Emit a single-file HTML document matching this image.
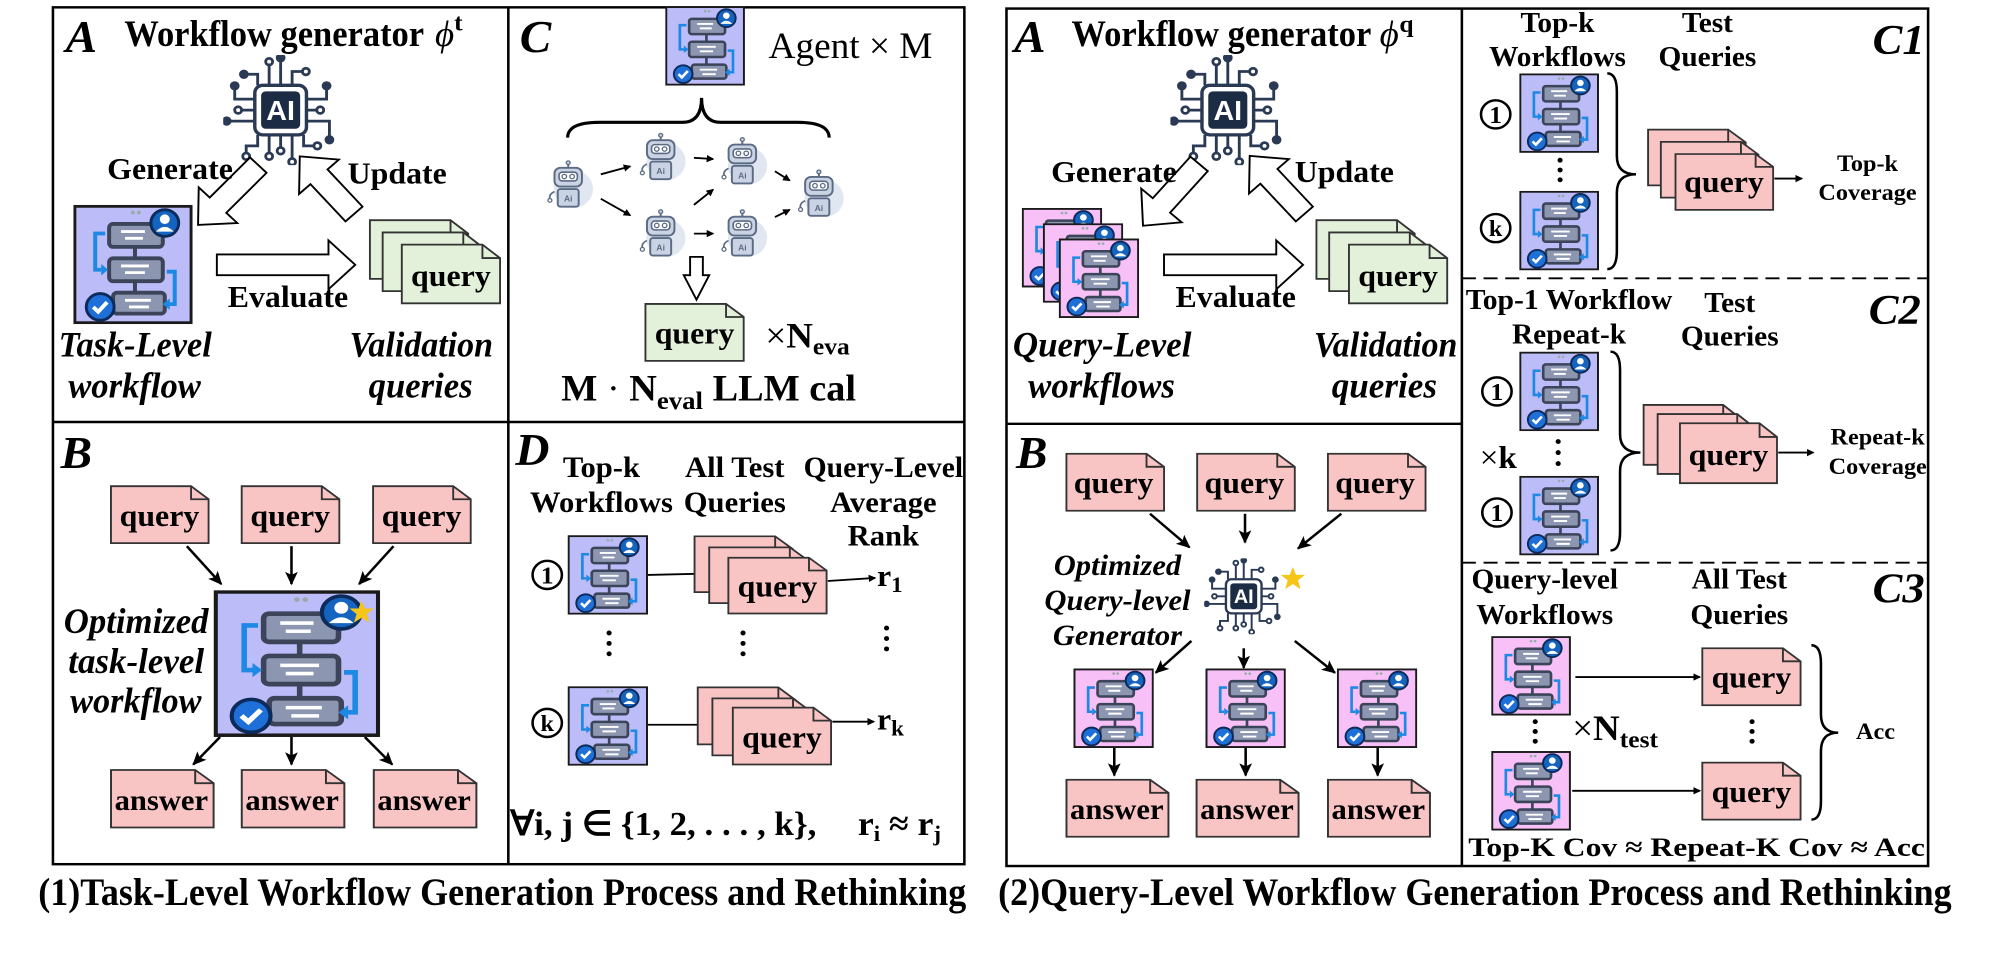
<!DOCTYPE html>
<html><head><meta charset="utf-8"><style>
html,body{margin:0;padding:0;background:#fff;}
svg{display:block;}
text{font-family:"Liberation Serif",serif;font-weight:bold;fill:#000;}
.bi{font-style:italic;}
.n{font-weight:normal;}
</style></head><body>
<svg width="1995" height="959" viewBox="0 0 1995 959" xmlns="http://www.w3.org/2000/svg">
<defs>
<marker id="ah" markerWidth="12" markerHeight="12" refX="10" refY="6" orient="auto" markerUnits="userSpaceOnUse"><path d="M0,0 L12,6 L0,12 Z" fill="#000"/></marker>
<marker id="ah2" markerWidth="22" markerHeight="20" refX="20" refY="10" orient="auto" markerUnits="userSpaceOnUse"><path d="M0,0 L22,10 L0,20 L5,10 Z" fill="#000"/></marker>
<symbol id="wf" viewBox="0 0 120 125" preserveAspectRatio="none">
<rect x="1.5" y="1.5" width="117" height="122" fill="currentColor" stroke="#1a1a1a" stroke-width="3"/>
<circle cx="60" cy="8" r="2" fill="#9aa"/><circle cx="66" cy="8" r="2" fill="#9aa"/>
<line x1="62" y1="44" x2="62" y2="56" stroke="#3b4459" stroke-width="4"/>
<line x1="62" y1="80" x2="62" y2="92" stroke="#3b4459" stroke-width="4"/>
<rect x="36" y="20" width="54" height="24" rx="4" fill="#8d96b0" stroke="#3b4459" stroke-width="4"/>
<line x1="48" y1="28" x2="72" y2="28" stroke="#fff" stroke-width="3"/><line x1="52" y1="35" x2="70" y2="35" stroke="#fff" stroke-width="3"/>
<rect x="36" y="56" width="54" height="24" rx="4" fill="#8d96b0" stroke="#3b4459" stroke-width="4"/>
<line x1="48" y1="64" x2="76" y2="64" stroke="#fff" stroke-width="3"/><line x1="52" y1="71" x2="72" y2="71" stroke="#fff" stroke-width="3"/>
<rect x="40" y="92" width="52" height="22" rx="4" fill="#8d96b0" stroke="#3b4459" stroke-width="4"/>
<line x1="52" y1="100" x2="78" y2="100" stroke="#fff" stroke-width="3"/><line x1="56" y1="107" x2="76" y2="107" stroke="#fff" stroke-width="3"/>
<path d="M32,30 H22 V68 H28" fill="none" stroke="#1e88e5" stroke-width="4"/><path d="M28,62 L35,68 L28,74 Z" fill="#1e88e5"/>
<path d="M94,70 H102 V104 H96" fill="none" stroke="#1e88e5" stroke-width="4"/><path d="M97,98 L90,104 L97,110 Z" fill="#1e88e5"/>
<circle cx="92" cy="19" r="14" fill="#1565c0" stroke="#0d2b5a" stroke-width="3"/>
<circle cx="92" cy="15" r="5" fill="#fff"/><path d="M83,28 Q92,18 101,28 Z" fill="#fff"/>
<circle cx="27" cy="107" r="14" fill="#1e6fd8" stroke="#0d2b5a" stroke-width="3"/>
<polyline points="20,107 25,112 34,102" fill="none" stroke="#fff" stroke-width="4"/>
</symbol>
<symbol id="chip" viewBox="-100 -100 200 200">
<g stroke="#2a3a55" stroke-width="5" fill="#fff">
<path d="M-20,-45 V-85 M0,-45 V-95 M20,-45 V-70 H40 M-40,-45 V-65 H-60 M45,-20 H80 V-40 M45,0 H65 M45,20 H85 V50 M-45,-20 H-80 V-40 M-45,0 H-70 M-45,20 H-90 M-20,45 V80 M0,45 V70 M20,45 V90 M40,45 V65 H60 M-40,45 V65 H-60 V80" fill="none"/>
<circle cx="-20" cy="-88" r="6"/><circle cx="0" cy="-95" r="6" fill="#2a3a55"/><circle cx="44" cy="-70" r="6"/><circle cx="-64" cy="-65" r="6" fill="#2a3a55"/><circle cx="80" cy="-44" r="6" fill="#2a3a55"/><circle cx="69" cy="0" r="6"/><circle cx="85" cy="54" r="6" fill="#2a3a55"/><circle cx="-80" cy="-44" r="6" fill="#2a3a55"/><circle cx="-74" cy="0" r="6"/><circle cx="-94" cy="20" r="6" fill="#2a3a55"/><circle cx="-20" cy="84" r="6"/><circle cx="0" cy="74" r="6"/><circle cx="20" cy="94" r="6"/><circle cx="64" cy="65" r="6"/><circle cx="-60" cy="84" r="6"/>
</g>
<rect x="-45" y="-45" width="90" height="90" rx="14" fill="#fff" stroke="#2a3a55" stroke-width="6"/>
<rect x="-34" y="-34" width="68" height="68" rx="8" fill="#1d2c45"/>
<text x="0" y="18" text-anchor="middle" style="font-family:'Liberation Sans',sans-serif;font-size:50px;font-weight:bold;fill:#fff">AI</text>
</symbol>
<symbol id="robot" viewBox="6 0 72 78">
<circle cx="46" cy="46" r="30" fill="#e1e7f0"/>
<line x1="38" y1="4" x2="38" y2="12" stroke="#5c6b85" stroke-width="3"/><circle cx="38" cy="4" r="3" fill="#c9d3e3" stroke="#5c6b85" stroke-width="2"/>
<rect x="17" y="12" width="42" height="30" rx="9" fill="#c9d3e3" stroke="#5c6b85" stroke-width="3"/>
<rect x="24" y="19" width="28" height="14" rx="5" fill="#fff" stroke="#5c6b85" stroke-width="2.5"/>
<circle cx="32" cy="26" r="3.5" fill="none" stroke="#5c6b85" stroke-width="2"/><circle cx="44" cy="26" r="3.5" fill="none" stroke="#5c6b85" stroke-width="2"/>
<rect x="22" y="46" width="32" height="28" rx="4" fill="#c9d3e3" stroke="#5c6b85" stroke-width="3"/>
<text x="38" y="66" text-anchor="middle" style="font-family:'Liberation Sans',sans-serif;font-size:13px;fill:#5c6b85">Ai</text>
<path d="M17,50 Q8,54 10,62" fill="none" stroke="#5c6b85" stroke-width="2.5"/><circle cx="10" cy="64" r="3" fill="#fff" stroke="#5c6b85" stroke-width="2"/>
</symbol>
<symbol id="docP" viewBox="0 0 160 100" preserveAspectRatio="none">
<path d="M2,2 H130 L158,24 V98 H2 Z" fill="#f8c4c4" stroke="#333" stroke-width="3"/><path d="M130,2 V24 H158" fill="none" stroke="#333" stroke-width="3"/>
</symbol>
<symbol id="docG" viewBox="0 0 160 100" preserveAspectRatio="none">
<path d="M2,2 H130 L158,24 V98 H2 Z" fill="#e3f0da" stroke="#333" stroke-width="3"/><path d="M130,2 V24 H158" fill="none" stroke="#333" stroke-width="3"/>
</symbol>
<symbol id="star" viewBox="0 0 40 40"><polygon points="20,2 25,15 39,15 28,24 32,38 20,30 8,38 12,24 1,15 15,15" fill="#f5c518"/></symbol>
</defs>

<!-- ================= LEFT ================= -->
<g transform="scale(0.6378,0.6116)">
<rect x="83" y="12" width="1429" height="1401" fill="none" stroke="#000" stroke-width="4"/>
<line x1="797" y1="12" x2="797" y2="1413" stroke="#000" stroke-width="4"/>
<line x1="83" y1="690" x2="1512" y2="690" stroke="#000" stroke-width="4"/>

<!-- A -->
<text x="103" y="85" class="bi" style="font-size:74px">A</text>
<text x="195" y="75" style="font-size:60px" textLength="470" lengthAdjust="spacingAndGlyphs">Workflow generator</text>
<text x="682" y="75" class="n" style="font-size:58px;font-style:italic">ϕ</text>
<text x="712" y="50" style="font-size:40px">t</text>
<use href="#chip" x="350" y="90" width="180" height="180"/>
<polygon points="0,-18 91,-18 91,-42 136,0 91,42 91,18 0,18" fill="#fff" stroke="#000" stroke-width="3" transform="translate(405,270) rotate(134)"/>
<polygon points="0,-18 82,-18 82,-42 127,0 82,42 82,18 0,18" fill="#fff" stroke="#000" stroke-width="3" transform="translate(555,350) rotate(-132)"/>
<polygon points="340,416 515,416 515,393 557,433 515,473 515,450 340,450" fill="#fff" stroke="#000" stroke-width="3"/>
<text x="168" y="293" style="font-size:50px">Generate</text>
<text x="545" y="300" style="font-size:50px">Update</text>
<text x="357" y="502" style="font-size:50px">Evaluate</text>
<use href="#wf" x="115" y="335" width="187" height="195" style="color:#bcbcf8"/>
<use href="#docG" x="578" y="358" width="158" height="100"/>
<use href="#docG" x="598" y="378" width="158" height="100"/>
<use href="#docG" x="628" y="398" width="158" height="100"/>
<text x="707" y="468" text-anchor="middle" style="font-size:50px">query</text>
<text x="92" y="583" class="bi" style="font-size:58px" textLength="240" lengthAdjust="spacingAndGlyphs">Task-Level</text>
<text x="107" y="650" class="bi" style="font-size:58px" textLength="208" lengthAdjust="spacingAndGlyphs">workflow</text>
<text x="548" y="583" class="bi" style="font-size:58px" textLength="225" lengthAdjust="spacingAndGlyphs">Validation</text>
<text x="578" y="650" class="bi" style="font-size:58px" textLength="163" lengthAdjust="spacingAndGlyphs">queries</text>

<!-- C -->
<text x="815" y="85" class="bi" style="font-size:74px">C</text>
<use href="#wf" x="1043" y="10" width="125" height="130" style="color:#bcbcf8"/>
<text x="1205" y="95" class="n" style="font-size:60px" textLength="257" lengthAdjust="spacingAndGlyphs">Agent × M</text>
<path d="M890,225 Q890,200 940,200 L1070,200 Q1100,200 1100,160 Q1100,200 1130,200 L1250,200 Q1300,200 1300,225" fill="none" stroke="#000" stroke-width="5"/>
<use href="#robot" x="855" y="262" width="80" height="80"/>
<use href="#robot" x="1000" y="217" width="80" height="80"/>
<use href="#robot" x="1128" y="224" width="80" height="80"/>
<use href="#robot" x="1000" y="342" width="80" height="80"/>
<use href="#robot" x="1128" y="342" width="80" height="80"/>
<use href="#robot" x="1248" y="277" width="80" height="80"/>
<g stroke="#000" stroke-width="3" marker-end="url(#ah)">
<line x1="942" y1="285" x2="988" y2="272"/><line x1="942" y1="325" x2="988" y2="352"/>
<line x1="1088" y1="258" x2="1118" y2="260"/><line x1="1088" y1="335" x2="1118" y2="310"/>
<line x1="1088" y1="382" x2="1118" y2="382"/><line x1="1215" y1="280" x2="1238" y2="295"/>
<line x1="1215" y1="355" x2="1238" y2="343"/>
</g>
<polygon points="1082,420 1102,420 1102,450 1112,450 1092,490 1072,450 1082,450" fill="#fff" stroke="#000" stroke-width="3"/>
<use href="#docG" x="1010" y="495" width="158" height="97"/>
<text x="1089" y="562" text-anchor="middle" style="font-size:50px">query</text>
<text x="1200" y="568" style="font-size:58px"><tspan class="n">×</tspan>N<tspan dy="12" style="font-size:40px">eva</tspan></text>
<text x="880" y="655" style="font-size:60px">M <tspan class="n">·</tspan> N<tspan dy="14" style="font-size:42px">eval</tspan><tspan dy="-14"> LLM cal</tspan></text>

<!-- B -->
<text x="95" y="765" class="bi" style="font-size:74px">B</text>
<use href="#docP" x="172" y="793" width="157" height="97"/>
<use href="#docP" x="377" y="793" width="157" height="97"/>
<use href="#docP" x="583" y="793" width="157" height="97"/>
<text x="250" y="860" text-anchor="middle" style="font-size:50px">query</text>
<text x="455" y="860" text-anchor="middle" style="font-size:50px">query</text>
<text x="661" y="860" text-anchor="middle" style="font-size:50px">query</text>
<g stroke="#000" stroke-width="4" marker-end="url(#ah2)">
<line x1="293" y1="893" x2="347" y2="955"/><line x1="457" y1="893" x2="457" y2="955"/><line x1="617" y1="893" x2="563" y2="955"/>
<line x1="345" y1="1205" x2="303" y2="1250"/><line x1="457" y1="1205" x2="457" y2="1250"/><line x1="572" y1="1205" x2="615" y2="1250"/>
</g>
<use href="#wf" x="335" y="965" width="261" height="240" style="color:#bcbcf8"/>
<use href="#star" x="547" y="980" width="40" height="40"/>
<text x="100" y="1035" class="bi" style="font-size:58px" textLength="227" lengthAdjust="spacingAndGlyphs">Optimized</text>
<text x="107" y="1100" class="bi" style="font-size:58px" textLength="213" lengthAdjust="spacingAndGlyphs">task-level</text>
<text x="110" y="1165" class="bi" style="font-size:58px" textLength="206" lengthAdjust="spacingAndGlyphs">workflow</text>
<use href="#docP" x="172" y="1257" width="165" height="98"/>
<use href="#docP" x="377" y="1257" width="165" height="98"/>
<use href="#docP" x="584" y="1257" width="165" height="98"/>
<text x="253" y="1324" text-anchor="middle" style="font-size:48px">answer</text>
<text x="458" y="1324" text-anchor="middle" style="font-size:48px">answer</text>
<text x="665" y="1324" text-anchor="middle" style="font-size:48px">answer</text>

<!-- D -->
<text x="808" y="760" class="bi" style="font-size:74px">D</text>
<g style="font-size:48px" text-anchor="middle">
<text x="943" y="780">Top-k</text><text x="943" y="837">Workflows</text>
<text x="1152" y="780">All Test</text><text x="1152" y="837">Queries</text>
<text x="1385" y="780" textLength="250" lengthAdjust="spacingAndGlyphs">Query-Level</text><text x="1385" y="837">Average</text><text x="1385" y="892">Rank</text>
</g>
<circle cx="858" cy="940" r="23" fill="none" stroke="#000" stroke-width="4"/><text x="858" y="954" text-anchor="middle" style="font-size:40px">1</text>
<use href="#wf" x="890" y="875" width="126" height="130" style="color:#bcbcf8"/>
<line x1="1016" y1="940" x2="1100" y2="938" stroke="#000" stroke-width="3" marker-end="url(#ah)"/>
<use href="#docP" x="1087" y="875" width="158" height="95"/>
<use href="#docP" x="1110" y="893" width="158" height="95"/>
<use href="#docP" x="1140" y="910" width="158" height="95"/>
<text x="1219" y="975" text-anchor="middle" style="font-size:50px">query</text>
<line x1="1298" y1="950" x2="1372" y2="945" stroke="#000" stroke-width="3" marker-end="url(#ah)"/>
<text x="1375" y="958" style="font-size:50px">r<tspan dy="10" style="font-size:36px">1</tspan></text>
<g fill="#000"><circle cx="955" cy="1035" r="4"/><circle cx="955" cy="1052" r="4"/><circle cx="955" cy="1069" r="4"/>
<circle cx="1165" cy="1035" r="4"/><circle cx="1165" cy="1052" r="4"/><circle cx="1165" cy="1069" r="4"/>
<circle cx="1390" cy="1027" r="4"/><circle cx="1390" cy="1044" r="4"/><circle cx="1390" cy="1061" r="4"/></g>
<circle cx="858" cy="1182" r="23" fill="none" stroke="#000" stroke-width="4"/><text x="858" y="1195" text-anchor="middle" style="font-size:38px">k</text>
<use href="#wf" x="890" y="1122" width="126" height="130" style="color:#bcbcf8"/>
<line x1="1016" y1="1185" x2="1105" y2="1185" stroke="#000" stroke-width="3" marker-end="url(#ah)"/>
<use href="#docP" x="1092" y="1122" width="158" height="97"/>
<use href="#docP" x="1115" y="1140" width="158" height="97"/>
<use href="#docP" x="1147" y="1155" width="158" height="97"/>
<text x="1226" y="1222" text-anchor="middle" style="font-size:50px">query</text>
<line x1="1305" y1="1180" x2="1370" y2="1180" stroke="#000" stroke-width="3" marker-end="url(#ah)"/>
<text x="1375" y="1193" style="font-size:50px">r<tspan dy="10" style="font-size:36px">k</tspan></text>
<text x="800" y="1365" style="font-size:56px" textLength="480" lengthAdjust="spacingAndGlyphs">∀i, j ∈ {1, 2, . . . , k},</text>
<text x="1345" y="1365" style="font-size:56px">r<tspan dy="10" style="font-size:36px">i</tspan><tspan dy="-10"> ≈ r</tspan><tspan dy="10" style="font-size:36px">j</tspan></text>

<text x="60" y="1480" style="font-size:64px" textLength="1455" lengthAdjust="spacingAndGlyphs">(1)Task-Level Workflow Generation Process and Rethinking</text>
</g>

<!-- ================= RIGHT ================= -->
<g transform="translate(995,0) scale(0.6378,0.6116)">
<rect x="18" y="14" width="1445" height="1402" fill="none" stroke="#000" stroke-width="4"/>
<line x1="732" y1="14" x2="732" y2="1416" stroke="#000" stroke-width="4"/>
<line x1="18" y1="693" x2="732" y2="693" stroke="#000" stroke-width="4"/>
<line x1="732" y1="455" x2="1463" y2="455" stroke="#000" stroke-width="3" stroke-dasharray="22,12"/>
<line x1="732" y1="920" x2="1463" y2="920" stroke="#000" stroke-width="3" stroke-dasharray="22,12"/>

<!-- A -->
<text x="30" y="85" class="bi" style="font-size:74px">A</text>
<text x="120" y="75" style="font-size:60px" textLength="470" lengthAdjust="spacingAndGlyphs">Workflow generator</text>
<text x="603" y="75" class="n" style="font-size:58px;font-style:italic">ϕ</text>
<text x="634" y="52" style="font-size:40px">q</text>
<use href="#chip" x="275" y="90" width="180" height="180"/>
<polygon points="0,-18 90,-18 90,-42 134,0 90,42 90,18 0,18" fill="#fff" stroke="#000" stroke-width="3" transform="translate(320,268) rotate(131)"/>
<polygon points="0,-18 83,-18 83,-42 128,0 83,42 83,18 0,18" fill="#fff" stroke="#000" stroke-width="3" transform="translate(485,350) rotate(-132)"/>
<polygon points="265,416 441,416 441,393 483,433 441,473 441,450 265,450" fill="#fff" stroke="#000" stroke-width="3"/>
<text x="88" y="298" style="font-size:50px">Generate</text>
<text x="470" y="298" style="font-size:50px">Update</text>
<text x="283" y="502" style="font-size:50px">Evaluate</text>
<use href="#wf" x="42" y="340" width="126" height="130" style="color:#f7c0f7"/>
<use href="#wf" x="75" y="365" width="126" height="130" style="color:#f7c0f7"/>
<use href="#wf" x="100" y="390" width="126" height="130" style="color:#f7c0f7"/>
<use href="#docG" x="502" y="358" width="158" height="100"/>
<use href="#docG" x="522" y="378" width="158" height="100"/>
<use href="#docG" x="553" y="398" width="158" height="100"/>
<text x="632" y="468" text-anchor="middle" style="font-size:50px">query</text>
<text x="28" y="583" class="bi" style="font-size:58px" textLength="280" lengthAdjust="spacingAndGlyphs">Query-Level</text>
<text x="52" y="650" class="bi" style="font-size:58px" textLength="230" lengthAdjust="spacingAndGlyphs">workflows</text>
<text x="500" y="583" class="bi" style="font-size:58px" textLength="225" lengthAdjust="spacingAndGlyphs">Validation</text>
<text x="528" y="650" class="bi" style="font-size:58px" textLength="165" lengthAdjust="spacingAndGlyphs">queries</text>

<!-- B -->
<text x="33" y="765" class="bi" style="font-size:74px">B</text>
<use href="#docP" x="110" y="740" width="157" height="97"/>
<use href="#docP" x="315" y="740" width="157" height="97"/>
<use href="#docP" x="520" y="740" width="157" height="97"/>
<text x="186" y="806" text-anchor="middle" style="font-size:50px">query</text>
<text x="391" y="806" text-anchor="middle" style="font-size:50px">query</text>
<text x="596" y="806" text-anchor="middle" style="font-size:50px">query</text>
<g stroke="#000" stroke-width="4" marker-end="url(#ah2)">
<line x1="243" y1="840" x2="305" y2="895"/><line x1="392" y1="840" x2="392" y2="887"/><line x1="543" y1="840" x2="475" y2="897"/>
<line x1="308" y1="1048" x2="252" y2="1100"/><line x1="390" y1="1060" x2="390" y2="1092"/><line x1="470" y1="1048" x2="533" y2="1100"/>
<line x1="187" y1="1223" x2="187" y2="1268"/><line x1="393" y1="1223" x2="393" y2="1268"/><line x1="600" y1="1223" x2="600" y2="1268"/>
</g>
<use href="#chip" x="328" y="913" width="124" height="124"/>
<use href="#star" x="447" y="925" width="40" height="40"/>
<g class="bi" style="font-size:48px" text-anchor="middle">
<text x="192" y="940" class="bi">Optimized</text><text x="192" y="997" class="bi">Query-level</text><text x="192" y="1055" class="bi">Generator</text></g>
<use href="#wf" x="123" y="1093" width="126" height="130" style="color:#f7c0f7"/>
<use href="#wf" x="330" y="1093" width="126" height="130" style="color:#f7c0f7"/>
<use href="#wf" x="536" y="1093" width="126" height="130" style="color:#f7c0f7"/>
<use href="#docP" x="110" y="1273" width="164" height="97"/>
<use href="#docP" x="314" y="1273" width="164" height="97"/>
<use href="#docP" x="520" y="1273" width="164" height="97"/>
<text x="191" y="1339" text-anchor="middle" style="font-size:48px">answer</text>
<text x="395" y="1339" text-anchor="middle" style="font-size:48px">answer</text>
<text x="601" y="1339" text-anchor="middle" style="font-size:48px">answer</text>

<!-- C1 -->
<text x="1376" y="88" class="bi" style="font-size:70px">C1</text>
<g style="font-size:46px" text-anchor="middle">
<text x="882" y="52">Top-k</text><text x="882" y="108">Workflows</text>
<text x="1117" y="52">Test</text><text x="1117" y="108">Queries</text></g>
<circle cx="785" cy="187" r="23" fill="none" stroke="#000" stroke-width="4"/><text x="785" y="201" text-anchor="middle" style="font-size:40px">1</text>
<use href="#wf" x="822" y="120" width="125" height="130" style="color:#bcbcf8"/>
<g fill="#000"><circle cx="886" cy="262" r="4"/><circle cx="886" cy="278" r="4"/><circle cx="886" cy="294" r="4"/></g>
<circle cx="785" cy="373" r="23" fill="none" stroke="#000" stroke-width="4"/><text x="785" y="386" text-anchor="middle" style="font-size:38px">k</text>
<use href="#wf" x="822" y="312" width="125" height="130" style="color:#bcbcf8"/>
<path d="M960,120 Q975,120 975,150 L975,255 Q975,285 1005,285 Q975,285 975,315 L975,410 Q975,440 960,440" fill="none" stroke="#000" stroke-width="4"/>
<use href="#docP" x="1022" y="210" width="157" height="95"/>
<use href="#docP" x="1042" y="230" width="157" height="95"/>
<use href="#docP" x="1065" y="250" width="157" height="95"/>
<text x="1143" y="314" text-anchor="middle" style="font-size:50px">query</text>
<line x1="1222" y1="292" x2="1265" y2="292" stroke="#000" stroke-width="3" marker-end="url(#ah)"/>
<text x="1368" y="280" text-anchor="middle" style="font-size:38px">Top-k</text>
<text x="1368" y="327" text-anchor="middle" style="font-size:38px">Coverage</text>

<!-- C2 -->
<text x="1370" y="530" class="bi" style="font-size:70px">C2</text>
<text x="738" y="505" style="font-size:46px" textLength="324" lengthAdjust="spacingAndGlyphs">Top-1 Workflow</text>
<g style="font-size:46px" text-anchor="middle">
<text x="900" y="562">Repeat-k</text><text x="1152" y="510">Test</text><text x="1152" y="565">Queries</text></g>
<circle cx="787" cy="640" r="23" fill="none" stroke="#000" stroke-width="4"/><text x="787" y="654" text-anchor="middle" style="font-size:40px">1</text>
<use href="#wf" x="822" y="575" width="125" height="130" style="color:#bcbcf8"/>
<text x="760" y="765" style="font-size:52px"><tspan class="n">×</tspan>k</text>
<g fill="#000"><circle cx="883" cy="722" r="4"/><circle cx="883" cy="740" r="4"/><circle cx="883" cy="758" r="4"/></g>
<circle cx="787" cy="838" r="23" fill="none" stroke="#000" stroke-width="4"/><text x="787" y="852" text-anchor="middle" style="font-size:40px">1</text>
<use href="#wf" x="822" y="778" width="125" height="130" style="color:#bcbcf8"/>
<path d="M965,575 Q980,575 980,605 L980,710 Q980,740 1012,740 Q980,740 980,770 L980,870 Q980,900 965,900" fill="none" stroke="#000" stroke-width="4"/>
<use href="#docP" x="1015" y="660" width="156" height="102"/>
<use href="#docP" x="1037" y="675" width="156" height="102"/>
<use href="#docP" x="1072" y="690" width="156" height="102"/>
<text x="1150" y="760" text-anchor="middle" style="font-size:50px">query</text>
<line x1="1228" y1="740" x2="1283" y2="740" stroke="#000" stroke-width="3" marker-end="url(#ah)"/>
<text x="1310" y="727" style="font-size:38px">Repeat-k</text>
<text x="1307" y="775" style="font-size:38px">Coverage</text>

<!-- C3 -->
<text x="1376" y="985" class="bi" style="font-size:70px">C3</text>
<g style="font-size:46px" text-anchor="middle">
<text x="862" y="962">Query-level</text><text x="862" y="1020">Workflows</text>
<text x="1167" y="962">All Test</text><text x="1167" y="1020">Queries</text></g>
<use href="#wf" x="778" y="1040" width="125" height="130" style="color:#f7c0f7"/>
<use href="#wf" x="778" y="1228" width="125" height="130" style="color:#f7c0f7"/>
<line x1="910" y1="1107" x2="1105" y2="1107" stroke="#000" stroke-width="3" marker-end="url(#ah)"/>
<line x1="905" y1="1293" x2="1105" y2="1293" stroke="#000" stroke-width="3" marker-end="url(#ah)"/>
<use href="#docP" x="1107" y="1058" width="158" height="97"/>
<use href="#docP" x="1107" y="1245" width="158" height="97"/>
<text x="1186" y="1124" text-anchor="middle" style="font-size:50px">query</text>
<text x="1186" y="1311" text-anchor="middle" style="font-size:50px">query</text>
<g fill="#000"><circle cx="847" cy="1180" r="4"/><circle cx="847" cy="1196" r="4"/><circle cx="847" cy="1212" r="4"/>
<circle cx="1187" cy="1180" r="4"/><circle cx="1187" cy="1196" r="4"/><circle cx="1187" cy="1212" r="4"/></g>
<text x="905" y="1210" style="font-size:58px"><tspan class="n">×</tspan>N<tspan dy="12" style="font-size:40px">test</tspan></text>
<path d="M1280,1055 Q1295,1055 1295,1085 L1295,1168 Q1295,1198 1322,1198 Q1295,1198 1295,1228 L1295,1310 Q1295,1340 1280,1340" fill="none" stroke="#000" stroke-width="4"/>
<text x="1350" y="1208" style="font-size:38px">Acc</text>
<text x="742" y="1400" style="font-size:44px" textLength="716" lengthAdjust="spacingAndGlyphs">Top-K  Cov ≈ Repeat-K  Cov ≈ Acc</text>

<text x="5" y="1480" style="font-size:64px" textLength="1495" lengthAdjust="spacingAndGlyphs">(2)Query-Level Workflow Generation Process and Rethinking</text>
</g>
</svg>
</body></html>
